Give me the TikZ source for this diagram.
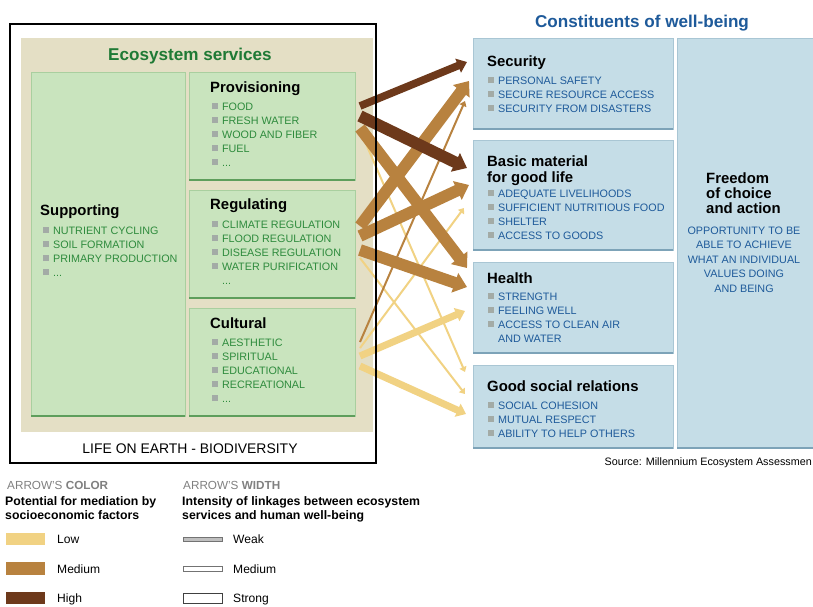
\documentclass[tikz,border=0pt]{standalone}
\usepackage{fontspec}
\setmainfont{Liberation Sans}
\usetikzlibrary{arrows.meta}

\definecolor{beige}{HTML}{E4DFC5}
\definecolor{gfill}{HTML}{C9E4BE}
\definecolor{gline}{HTML}{A9CF9F}
\definecolor{gedge}{HTML}{5E9E5C}
\definecolor{gtext}{HTML}{2E8B3D}
\definecolor{gtitle}{HTML}{1F7A35}
\definecolor{bfill}{HTML}{C5DDE7}
\definecolor{bline}{HTML}{A9C6D4}
\definecolor{bedge}{HTML}{7DA3B8}
\definecolor{btext}{HTML}{1E5A9A}
\definecolor{bulgray}{HTML}{A3ABA6}
\definecolor{lowc}{HTML}{F1D283}
\definecolor{medc}{HTML}{B8823F}
\definecolor{highc}{HTML}{6D391B}

\newcommand{\bul}{{\color{bulgray}\rule[0.8pt]{5pt}{5pt}}\hspace{3.4pt}}

\begin{document}
\begin{tikzpicture}[x=0.03cm, y=-0.03cm, font=\fontsize{9.2}{11.9}\selectfont,
  gbox/.style={draw=gline, fill=gfill}, gbase/.style={gedge, line width=2.2pt},
  bbox/.style={draw=bline, fill=bfill}, bbase/.style={bedge, line width=2.2pt},
  head/.style={anchor=base west, inner sep=0pt, align=left, font=\fontsize{12.7}{13.6}\selectfont\bfseries},
  items/.style={anchor=base west, inner sep=0pt, align=left},
  legtext/.style={anchor=base west, inner sep=0pt, align=left, font=\fontsize{10.3}{12}\selectfont},
  flow/.style={-{Triangle[length=3pt 0.8, width=4pt 1.3]}}]
	\useasboundingbox (0,0) rectangle (813,606);
	\clip (0,0) rectangle (813,606);
	\fill[white] (0,0) rectangle (813,606);
	\fill[beige] (21,38) rectangle (373,432);
	\foreach \a/\b/\c/\d in {31/72/185/416, 189/72/355/180, 189/190/355/298, 189/308/355/416} {
		\draw[gbox] (\a,\b) rectangle (\c,\d);
		\draw[gbase] (\a,\d) -- (\c,\d);
	}
	\foreach \a/\b/\c/\d in {473/38/673/129, 473/140/673/250, 473/262/673/353, 473/365/673/448, 677/38/820/448} {
		\draw[bbox] (\a,\b) rectangle (\c,\d);
		\draw[bbase] (\a,\d) -- (\c,\d);
	}
	% multi-line nodes sit on the baseline of their last line
	\node[anchor=base, font=\fontsize{14.6}{16}\selectfont\bfseries, text=gtitle] (es) at (190,60) {Ecosystem services};
	\node[head] (supp) at (40,215) {Supporting};
	\node[items, text=gtext] (suppl) at (43,276) {\bul NUTRIENT CYCLING\\ \bul SOIL FORMATION\\ \bul PRIMARY PRODUCTION\\ \bul ...};
	\node[head] (prov) at (210,92) {Provisioning};
	\node[items, text=gtext] (provl) at (212,166) {\bul FOOD\\ \bul FRESH WATER\\ \bul WOOD AND FIBER\\ \bul FUEL\\ \bul ...};
	\node[head] (reg) at (210,209) {Regulating};
	\node[items, text=gtext] (regl) at (212,284) {\bul CLIMATE REGULATION\\ \bul FLOOD REGULATION\\ \bul DISEASE REGULATION\\ \bul WATER PURIFICATION\\ \hphantom{\bul}...};
	\node[head] (cult) at (210,328) {Cultural};
	\node[items, text=gtext] (cultl) at (212,402) {\bul AESTHETIC\\ \bul SPIRITUAL\\ \bul EDUCATIONAL\\ \bul RECREATIONAL\\ \bul ...};
	\node[anchor=base, font=\fontsize{11.9}{13}\selectfont] (life) at (190,453) {LIFE ON EARTH - BIODIVERSITY};
	\node[anchor=base, font=\fontsize{14.6}{16}\selectfont\bfseries, text=btext] (cw) at (642,27) {Constituents of well-being};
	\node[head] (sec) at (487,66) {Security};
	\node[items, text=btext] (secl) at (488,112) {\bul PERSONAL SAFETY\\ \bul SECURE RESOURCE ACCESS\\ \bul SECURITY FROM DISASTERS};
	\node[head] (basic) at (487,182) {Basic material\\for good life};
	\node[items, text=btext] (basicl) at (488,239) {\bul ADEQUATE LIVELIHOODS\\ \bul SUFFICIENT NUTRITIOUS FOOD\\ \bul SHELTER\\ \bul ACCESS TO GOODS};
	\node[head] (health) at (487,283) {Health};
	\node[items, text=btext] (healthl) at (488,342) {\bul STRENGTH\\ \bul FEELING WELL\\ \bul ACCESS TO CLEAN AIR\\ \hphantom{\bul}AND WATER};
	\node[head] (good) at (487,391) {Good social relations};
	\node[items, text=btext] (goodl) at (488,437) {\bul SOCIAL COHESION\\ \bul MUTUAL RESPECT\\ \bul ABILITY TO HELP OTHERS};
	\node[head, font=\fontsize{12.7}{12.75}\selectfont\bfseries] (free) at (706,213) {Freedom\\of choice\\and action};
	\node[anchor=base, inner sep=0pt, align=center, text=btext, font=\fontsize{9.2}{12.3}\selectfont] (freel) at (744,292) {OPPORTUNITY TO BE\\ABLE TO ACHIEVE\\WHAT AN INDIVIDUAL\\VALUES DOING\\AND BEING};
	\node[anchor=base east, inner sep=0pt] (src) at (812,465) {Source: Millennium Ecosystem Assessmen};
	% arrow ends
	\coordinate (p1) at (360,106); \coordinate (p2) at (360,116); \coordinate (p3) at (360,128); \coordinate (p4) at (360,130);
	\coordinate (r1) at (360,226); \coordinate (r2) at (360,236); \coordinate (r3) at (360,250); \coordinate (r4) at (360,258);
	\coordinate (c1) at (360,342); \coordinate (c2) at (360,348); \coordinate (c3) at (360,356); \coordinate (c4) at (360,366);
	\coordinate (s1) at (467,62); \coordinate (s2) at (469,81); \coordinate (s3) at (465,101);
	\coordinate (b1) at (467,168); \coordinate (b2) at (469,185); \coordinate (b3) at (464,208);
	\coordinate (h1) at (467,268); \coordinate (h2) at (467,287); \coordinate (h3) at (465,311);
	\coordinate (g1) at (465,372); \coordinate (g2) at (465,394); \coordinate (g3) at (466,414);
	\foreach \s/\t/\c/\w in {p4/g1/lowc/1.7pt, r4/g2/lowc/1.7pt, c2/b3/lowc/1.7pt, c3/h3/lowc/6pt, c4/g3/lowc/6pt,
		c1/s3/medc/1.7pt, r1/s2/medc/10pt, r2/b2/medc/10pt, r3/h2/medc/10pt, p3/h1/medc/10pt,
		p1/s1/highc/6.5pt, p2/b1/highc/10pt}
		\draw[flow, \c, line width=\w] (\s) -- (\t);
	\draw[line width=1.2pt] (10,24) rectangle (376,463);
	% legend
	\node[legtext, font=\fontsize{10}{12}\selectfont, text=black!50] (colk) at (7,489) {ARROW'S \textbf{COLOR}};
	\node[legtext, font=\fontsize{10.5}{11.9}\selectfont\bfseries] (colt) at (5,519) {Potential for mediation by\\socioeconomic factors};
	\fill[lowc] (6,533) rectangle (45,545);
	\fill[medc] (6,562) rectangle (45,575);
	\fill[highc] (6,592) rectangle (45,604);
	\node[legtext] (low) at (57,543) {Low};
	\node[legtext] (med) at (57,573) {Medium};
	\node[legtext] (high) at (57,602) {High};
	\node[legtext, font=\fontsize{10}{12}\selectfont, text=black!50] (widk) at (183,489) {ARROW'S \textbf{WIDTH}};
	\node[legtext, font=\fontsize{10.5}{11.9}\selectfont\bfseries] (widt) at (182,519) {Intensity of linkages between ecosystem\\services and human well-being};
	\draw[black!55, fill=black!25] (183,537) rectangle (222,541);
	\draw[black!55] (183,566) rectangle (222,571);
	\draw[black!75] (183,593) rectangle (222,603);
	\node[legtext] (weak) at (233,543) {Weak};
	\node[legtext] (medw) at (233,573) {Medium};
	\node[legtext] (strong) at (233,602) {Strong};
\end{tikzpicture}
\end{document}
